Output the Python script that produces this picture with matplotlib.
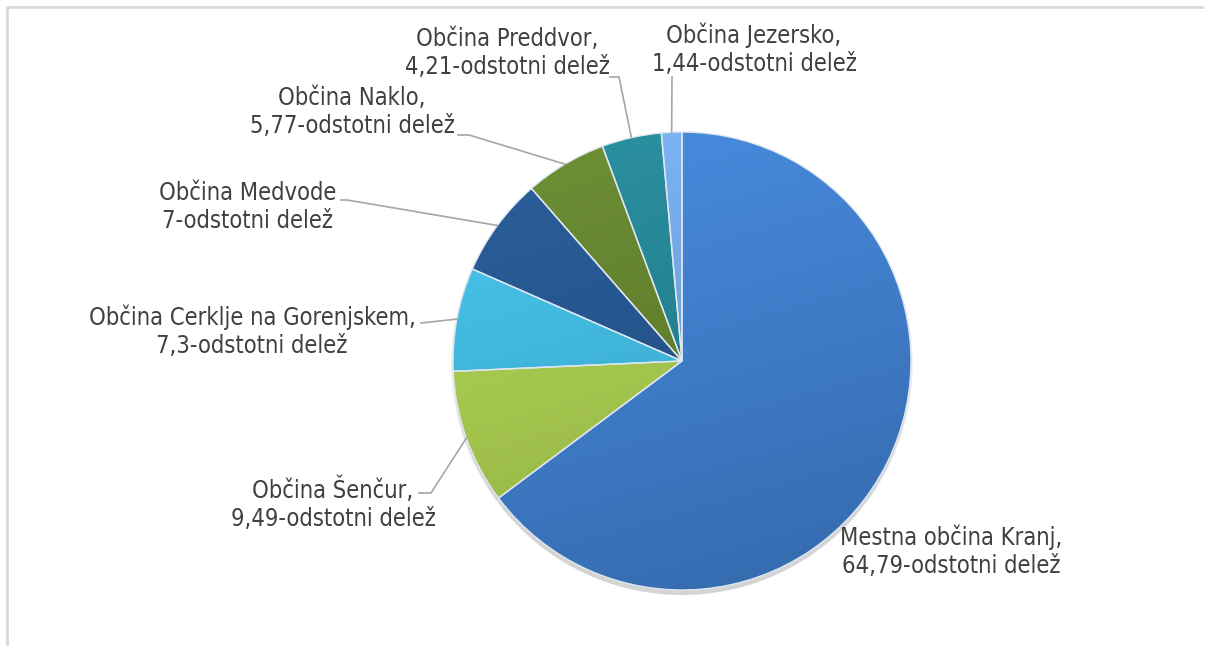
import matplotlib
matplotlib.use('Agg')
import matplotlib.pyplot as plt
import matplotlib.colors as mcolors
from matplotlib.patches import Circle
import numpy as np

plt.rcParams['font.family'] = ['DejaVu Sans']
plt.rcParams['font.stretch'] = 'condensed'

# data
names = ['Mestna občina Kranj', 'Občina Šenčur', 'Občina Cerklje na Gorenjskem',
         'Občina Medvode', 'Občina Naklo', 'Občina Preddvor', 'Občina Jezersko']
shares = [64.79, 9.49, 7.3, 7, 5.77, 4.21, 1.44]
share_txt = ['64,79', '9,49', '7,3', '7', '5,77', '4,21', '1,44']
colors = ['#3d7bc9', '#a4c64b', '#3db4da', '#22528b', '#5f7f2b', '#21808f', '#6fa2de']

W, H = 1206, 646
fig = plt.figure(figsize=(W / 100, H / 100), dpi=100)
ax = fig.add_axes([0, 0, 1, 1])

cx, cy, R = 682, H - 361, 229

# soft shadow under the pie
for i in range(4):
    ax.add_patch(Circle((cx, cy - 3 - i), R + 2 - i, color='black', alpha=0.045, lw=0, zorder=1))

wedges, _ = ax.pie(shares, colors=colors, startangle=90, counterclock=False,
                   center=(cx, cy), radius=R,
                   wedgeprops=dict(edgecolor='#dfe7f1', linewidth=1.0, zorder=2))

# gentle light-to-dark shading on each slice
yy, xx = np.mgrid[1:-1:200j, -1:1:200j]
shade = np.clip(0.5 + 0.35 * yy - 0.1 * xx, 0, 1)
for w, c in zip(wedges, colors):
    rgb = np.array(mcolors.to_rgb(c))
    light = np.clip(rgb * 1.1 + 0.03, 0, 1)
    dark = rgb * 0.84
    img = dark[None, None, :] * (1 - shade[..., None]) + light[None, None, :] * shade[..., None]
    im = ax.imshow(img, extent=(cx - R, cx + R, cy - R, cy + R), zorder=2.5,
                   interpolation='bilinear')
    im.set_clip_path(w)
    w.set_zorder(3)
    w.set_facecolor('none')

ax.set_xlim(0, W)
ax.set_ylim(0, H)
ax.set_aspect('equal')
ax.axis('off')

# chart frame
ax.plot([7, 7, 1204], [0, H - 7, H - 7], color='#d9d9d9', lw=2, solid_capstyle='butt', zorder=0)

# label layout (pixel positions, y from top)
label_pos = [(951, 551), (333, 504), (252, 331), (248, 207), (352, 112), (507, 53), (754, 49)]
line_start = [None, [(419, 493), (431, 493)], [(421, 323)], [(341, 200), (347, 200)],
              [(458, 135), (469, 135)], [(610, 77), (619, 77)], [(672, 77)]]
sep = [',', ',', ',', '', ',', ',', ',']

for i, w in enumerate(wedges):
    x, y = label_pos[i]
    txt = f'{names[i]}{sep[i]}\n{share_txt[i]}-odstotni delež'
    ax.text(x, H - y, txt, ha='center', va='center', multialignment='center',
            fontsize=17, fontstretch='condensed', color='#404040', linespacing=1.22, zorder=5)
    if line_start[i] is not None:
        ang = np.deg2rad((w.theta1 + w.theta2) / 2)
        ex, ey = cx + R * np.cos(ang), cy + R * np.sin(ang)
        px = [p[0] for p in line_start[i]] + [ex]
        py = [H - p[1] for p in line_start[i]] + [ey]
        ax.plot(px, py, color='#a6a6a6', lw=1.2, zorder=4)

fig.savefig('out.png', dpi=100)
